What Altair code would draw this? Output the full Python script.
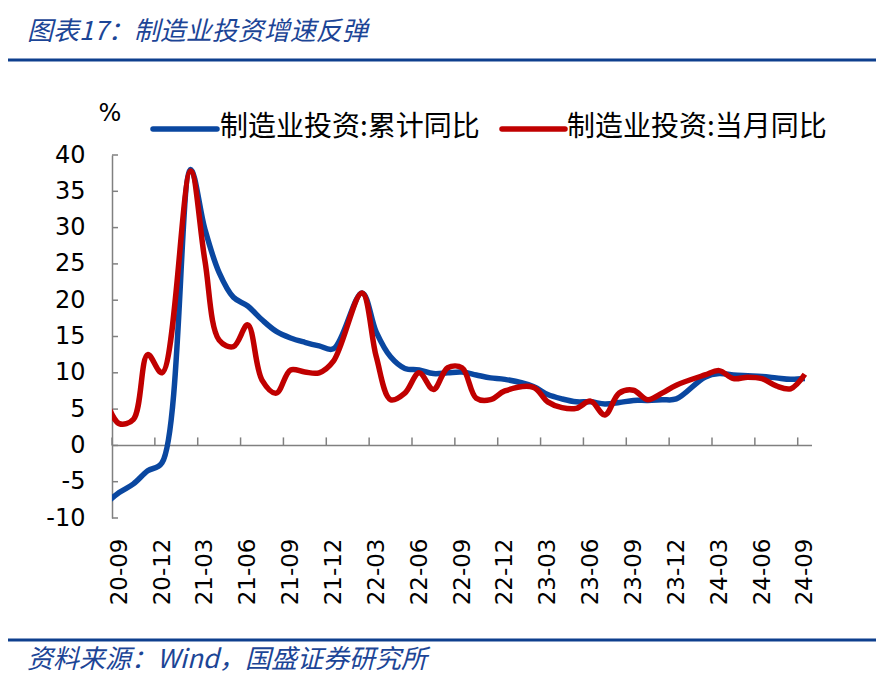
import altair as alt
import pandas as pd

months = ["20-08", "20-09", "20-10", "20-11", "20-12",
          "21-01", "21-02", "21-03", "21-04", "21-05", "21-06", "21-07", "21-08", "21-09", "21-10", "21-11", "21-12",
          "22-01", "22-02", "22-03", "22-04", "22-05", "22-06", "22-07", "22-08", "22-09", "22-10", "22-11", "22-12",
          "23-01", "23-02", "23-03", "23-04", "23-05", "23-06", "23-07", "23-08", "23-09", "23-10", "23-11", "23-12",
          "24-01", "24-02", "24-03", "24-04", "24-05", "24-06", "24-07", "24-08", "24-09"]

cum_yoy = [-8.1, -6.5, -5.3, -3.5, -2.4,
           None, 38.0, 29.8, 23.8, 20.4, 19.2, 17.3, 15.7, 14.8, 14.2, 13.7, 13.3,
           None, 21.0, 15.6, 12.2, 10.6, 10.4, 9.9, 10.0, 10.1, 9.7, 9.3, 9.1,
           None, 8.1, 7.0, 6.4, 6.0, 6.0, 5.7, 5.9, 6.2, 6.2, 6.3, 6.4,
           None, 9.4, 9.9, 9.7, 9.6, 9.5, 9.3, 9.1, 9.2]

mon_yoy = [6.5, 3.0, 3.6, 12.5, 10.0,
           None, 37.8, 25.5, 14.5, 13.6, 16.6, 9.0, 7.2, 10.4, 10.1, 10.0, 11.6,
           None, 21.0, 12.2, 6.3, 7.2, 10.0, 7.7, 10.7, 10.7, 6.5, 6.3, 7.5,
           None, 8.0, 6.0, 5.2, 5.1, 6.1, 4.2, 7.2, 7.6, 6.3, 7.2, 8.3,
           None, 9.7, 10.3, 9.2, 9.4, 9.2, 8.2, 7.8, 9.8]

series_names = ["制造业投资:累计同比", "制造业投资:当月同比"]
series_colors = ["#0A47A0", "#C00000"]
y_ticks = [-10, -5, 0, 5, 10, 15, 20, 25, 30, 35, 40]
title_text = "图表17：制造业投资增速反弹"
source_text = "资料来源：Wind，国盛证券研究所"

# month index: 0 = 20-09
idx = list(range(-1, len(months) - 1))
rows = []
for i, m, a, b in zip(idx, months, cum_yoy, mon_yoy):
    if a is not None:
        rows.append({"i": i, "m": m, "v": a, "s": series_names[0]})
    if b is not None:
        rows.append({"i": i, "m": m, "v": b, "s": series_names[1]})
df = pd.DataFrame(rows)

label_vals = list(range(0, 49, 3))
label_arr = "[" + ",".join("'" + months[v + 1] + "'" for v in label_vals) + "]"
boundaries = [v - 0.5 for v in label_vals]

W, H = 700, 363
xscale = alt.Scale(domain=[-0.5, 48.5], nice=False, zero=False)
yscale = alt.Scale(domain=[-10, 40], nice=False, zero=False)
GREY = "#808080"
BLUE_T = "#1C4596"

xaxis = alt.Axis(values=label_vals, labelExpr=label_arr + "[round(datum.value/3)]",
                 labelAngle=270, labelPadding=20, domain=False, ticks=False, tickSize=0,
                 grid=False, title=None, labelFontSize=23, labelFont="DejaVu Sans",
                 labelColor="black", labelFlush=False, labelOverlap=False)
yaxis = alt.Axis(values=y_ticks, labelExpr="datum.value + ''", ticks=False, tickSize=0,
                 labelPadding=27, labelFontSize=24,
                 labelFont="DejaVu Sans", labelColor="black", domainColor=GREY,
                 domainWidth=1.5, grid=False, title=None, labelFlush=False, labelOverlap=False)

lines = alt.Chart(df).mark_line(strokeWidth=5.5, interpolate="catmull-rom", clip=True).encode(
    x=alt.X("i:Q", scale=xscale, axis=xaxis),
    y=alt.Y("v:Q", scale=yscale, axis=yaxis),
    color=alt.Color("s:N", scale=alt.Scale(domain=series_names, range=series_colors), legend=None),
    order=alt.Order("i:Q"),
)

zero_line = alt.Chart(pd.DataFrame({"z": [0]})).mark_rule(color=GREY, strokeWidth=1.5).encode(
    y=alt.Y("z:Q", scale=yscale, axis=yaxis), x=alt.value(0), x2=alt.value(W),
)

yt = alt.Chart(pd.DataFrame({"t": y_ticks})).mark_rule(color=GREY, strokeWidth=1.5).encode(
    y=alt.Y("t:Q", scale=yscale, axis=yaxis), x=alt.value(0), x2=alt.value(6)
)

xt = alt.Chart(pd.DataFrame({"b": boundaries, "y0": [0] * len(boundaries), "y1": [1.1] * len(boundaries)})).mark_rule(
    color=GREY, strokeWidth=1.5).encode(
    x=alt.X("b:Q", scale=xscale, axis=xaxis),
    y=alt.Y("y0:Q", scale=yscale, axis=yaxis), y2="y1:Q"
)

def rule_px(x1, x2, y, color, width, cap="butt"):
    return alt.Chart(pd.DataFrame({"a": [0]})).mark_rule(color=color, strokeWidth=width, strokeCap=cap).encode(
        x=alt.value(x1), x2=alt.value(x2), y=alt.value(y))

def text_px(x, y, t, size, font, color="black", style="normal", align="left"):
    return alt.Chart(pd.DataFrame({"t": [t]})).mark_text(
        align=align, baseline="middle", fontSize=size, font=font, fontStyle=style, color=color).encode(
        x=alt.value(x), y=alt.value(y), text="t:N")

leg1 = rule_px(41, 105, -26, series_colors[0], 5.5, "round")
leg2 = rule_px(390, 453, -26, series_colors[1], 5.5, "round")
legt1 = text_px(108, -27, series_names[0], 28, "Noto Sans CJK SC")
legt2 = text_px(455, -27, series_names[1], 28, "Noto Sans CJK SC")
pct = text_px(-2, -41, "%", 24, "DejaVu Sans", align="center")
title = text_px(-85, -123, title_text, 26, "Noto Sans CJK SC", BLUE_T, "italic")
source = text_px(-85, 505, source_text, 26, "Noto Sans CJK SC", BLUE_T, "italic")
top_line = rule_px(-107, 764, -95, "#0E3F8E", 3)
bot_line = rule_px(-107, 764, 485, "#0E3F8E", 3)

chart = alt.layer(zero_line, yt, xt, lines, leg1, leg2, legt1, legt2, pct, title, source,
                  top_line, bot_line).properties(
    width=W, height=H,
    padding={"left": 104, "top": 147, "right": 66, "bottom": 160},
    autosize=alt.AutoSizeParams(type="none"),
).configure_view(stroke=None)

chart.save("out.html", embed_options={"renderer": "svg", "actions": False})
